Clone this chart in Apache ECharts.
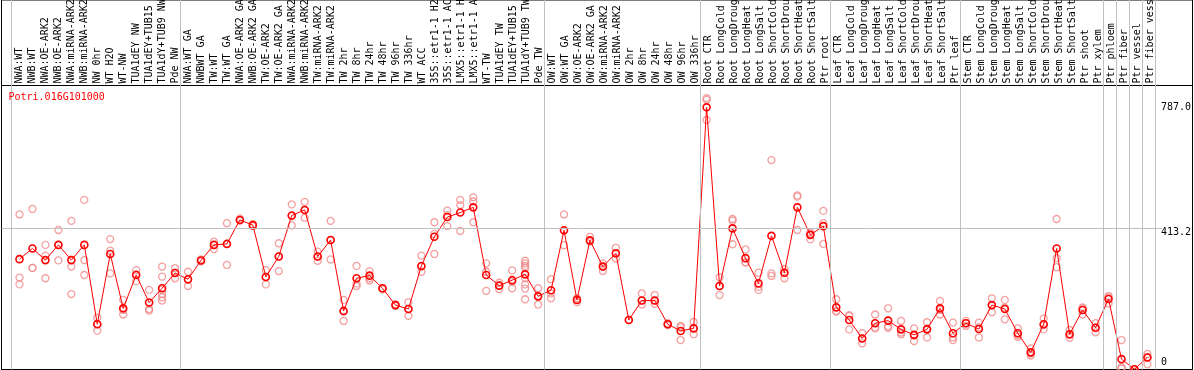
<!DOCTYPE html>
<html>
<head>
<meta charset="utf-8">
<title>Potri.016G101000</title>
<script src="https://cdn.jsdelivr.net/npm/echarts@6.0.0/dist/echarts.min.js"></script>
<style>
	html, body { margin: 0; padding: 0; background: #fff; }
	#chart { width: 1194px; height: 370px; }
</style>
</head>
<body>
<div id="chart"></div>
<script>
	const geneName = "Potri.016G101000";

	const categories = [
		// NW
		"NWA:WT", "NWB:WT", "NWA:OE-ARK2", "NWB:OE-ARK2", "NWA:miRNA-ARK2", "NWB:miRNA-ARK2",
		"NW 0hr", "WT H2O", "WT-NW", "TUA1dEY NW", "TUA1dEY+TUB15", "TUA1dY+TUB9 NW", "Pde NW",
		// TW
		"NWA:WT GA", "NWBWT GA", "TW:WT", "TW:WT GA", "NWA:OE-ARK2 GA", "NWB:OE-ARK2 GA",
		"TW:OE-ARK2", "TW:OE-ARK2 GA", "NWA:miRNA-ARK2", "NWB:miRNA-ARK2", "TW:miRNA-ARK2", "TW:miRNA-ARK2",
		"TW 2hr", "TW 8hr", "TW 24hr", "TW 48hr", "TW 96hr", "TW 336hr", "WT ACC",
		"35S::etr1-1 H2O", "35S::etr1-1 ACC", "LMX5::etr1-1 H2O", "LMX5::etr1-1 ACC",
		"WT-TW", "TUA1dEY TW", "TUA1dEY+TUB15", "TUA1dY+TUB9 TW", "Pde TW",
		// OW
		"OW:WT", "OW:WT GA", "OW:OE-ARK2", "OW:OE-ARK2 GA", "OW:miRNA-ARK2", "OW:miRNA-ARK2",
		"OW 2hr", "OW 8hr", "OW 24hr", "OW 48hr", "OW 96hr", "OW 336hr",
		// root
		"Root CTR", "Root LongCold", "Root LongDrought", "Root LongHeat", "Root LongSalt",
		"Root ShortCold", "Root ShortDrought", "Root ShortHeat", "Root ShortSalt", "Ptr root",
		// leaf
		"Leaf CTR", "Leaf LongCold", "Leaf LongDrought", "Leaf LongHeat", "Leaf LongSalt",
		"Leaf ShortCold", "Leaf ShortDrought", "Leaf ShortHeat", "Leaf ShortSalt", "Ptr leaf",
		// stem
		"Stem CTR", "Stem LongCold", "Stem LongDrought", "Stem LongHeat", "Stem LongSalt",
		"Stem ShortCold", "Stem ShortDrought", "Stem ShortHeat", "Stem ShortSalt", "Ptr shoot", "Ptr xylem",
		"Ptr phloem", "Ptr fiber", "Ptr vessel", "Ptr fiber vessel"
	];

	// mean expression per sample
	const means = [
		318, 351, 315, 362, 315, 362, 117, 334, 166, 269, 184, 228, 275,
		256, 314, 362, 365, 439, 423, 263, 326, 453, 470, 326, 377, 158, 259, 267, 228,
		176, 164, 297, 387, 448, 462, 478, 269, 236, 253, 271, 203,
		222, 407, 192, 376, 295, 336, 130, 190, 190, 117, 96, 104,
		787, 235, 413, 321, 243, 390, 276, 478, 393, 420,
		169, 130, 73, 120, 128, 101, 84, 101, 166, 89,
		120, 102, 176, 164, 89, 30, 117, 351, 86, 161, 106,
		195, 9, -22, 14
	];

	// individual replicates per sample
	const replicates = [
		[456, 261, 240], [473, 291, 291], [362, 329, 259], [408, 362, 314], [436, 295, 210],
		[501, 315, 269], [137, 117, 97], [380, 344, 274], [192, 161, 147], [284, 271, 250],
		[223, 164, 159], [295, 264, 223, 210, 200, 190], [290, 276, 259],
		[279, 254, 235], [317, 311], [372, 362, 349], [429, 365, 300], [443, 437], [426, 420],
		[284, 263, 240], [367, 326, 281], [487, 451, 422], [495, 470, 446], [341, 326, 313],
		[436, 377, 317], [192, 156, 127], [297, 243, 235], [281, 259, 252], [228, 225],
		[178, 174], [185, 164, 143], [329, 295, 279], [432, 396, 334], [468, 454, 420],
		[501, 485, 405], [509, 496, 432], [305, 279, 220], [245, 236, 225], [283, 248, 228],
		[313, 305, 297, 290, 259, 240, 227, 194], [228, 203, 178],
		[256, 212, 197], [456, 407, 361], [197, 185], [387, 372], [305, 295, 281], [353, 336, 320],
		[130], [212, 190, 178], [207, 190, 180], [120, 114], [112, 107, 68], [124, 104, 86],
		[815, 810, 748], [262, 235, 207], [442, 437, 364], [348, 308, 308], [276, 233, 223],
		[624, 274, 266], [287, 276, 259], [515, 511, 408], [400, 393, 379], [467, 429, 365],
		[194, 158, 156], [145, 142, 101], [89, 73, 58], [147, 107, 104], [166, 111, 106],
		[127, 91, 86], [104, 82, 65], [123, 104, 76], [189, 161, 147], [122, 76, 68],
		[127, 120, 112], [122, 107, 76], [197, 176, 154], [192, 168, 132], [104, 84, 78],
		[42, 27, 20], [135, 114, 101], [442, 321, 293], [99, 84, 75], [169, 166, 147], [120, 106, 92],
		[204, 200, 181], [68, -16, -20], [-22, -30], [25, 16, -7]
	];

	// sample index where each group starts (group separators)
	const groupBreaks = [0, 13, 41, 53, 63, 73, 84, 85, 86, 87, 88];

	const yTickValues = [0, 413.2, 787.0];
	const yTickLabels = ["0", "413.2", "787.0"];
	const refLine = 413.2;

	const FONT = '"DejaVu Sans Mono", monospace';
	const Y_MIN = -23;
	const Y_MAX = 856;
	// separator axis: spans the whole frame, one unit per sample
	const SEP_MIN = -10 / 13;
	const SEP_MAX = SEP_MIN + 1191 / 13;

	const scatterData = [];
	replicates.forEach((reps, i) => reps.forEach(v => scatterData.push([i, v])));

	const grayLine = { color: "#c0c0c0", width: 1, type: "solid" };
	const hidden = { show: false };

	const chart = echarts.init(document.getElementById("chart"));

	chart.setOption({
		animation: false,
		backgroundColor: "#fff",
		title: {
			text: geneName,
			left: 8.5,
			top: 92,
			padding: 0,
			textStyle: { color: "#ff0000", fontFamily: FONT, fontSize: 10, fontWeight: "normal" }
		},
		grid: [
			// 0: outer frame + separators
			{ left: 1.5, right: 1.5, top: -5, bottom: 0.5, show: true, borderColor: "#000", borderWidth: 1, backgroundColor: "transparent" },
			// 1: reference line
			{ left: 1.5, right: 32, top: 85, bottom: 0.5 },
			// 2: plot frame
			{ left: 1.5, right: 1.5, top: 85.5, bottom: 0.5, show: true, borderColor: "#000", borderWidth: 1, backgroundColor: "transparent" },
			// 3: data
			{ left: 13, right: 37, top: 85, bottom: 0.5 },
			// 4: sample labels
			{ left: 13, right: 37, top: 0, height: 85.5 }
		],
		xAxis: [
			{ gridIndex: 0, type: "value", min: SEP_MIN, max: SEP_MAX, show: false },
			{ gridIndex: 1, type: "value", min: 0, max: 1, show: false },
			{ gridIndex: 2, type: "value", min: 0, max: 1, show: false },
			{ gridIndex: 3, type: "category", data: categories, show: false, boundaryGap: true },
			{
				gridIndex: 4,
				type: "category",
				data: categories,
				position: "bottom",
				boundaryGap: true,
				axisLine: hidden,
				axisTick: hidden,
				splitLine: hidden,
				axisLabel: {
					inside: true,
					rotate: 90,
					margin: 2,
					interval: 0,
					hideOverlap: false,
					// nudges the rotated text a little to the right
					padding: [5, 0, 0, 0],
					color: "#000",
					fontFamily: FONT,
					fontSize: 10
				}
			}
		],
		yAxis: [
			{ gridIndex: 0, type: "value", min: 0, max: 1, show: false },
			{ gridIndex: 1, type: "value", min: Y_MIN, max: Y_MAX, show: false },
			{ gridIndex: 2, type: "value", min: 0, max: 1, show: false },
			{
				gridIndex: 3,
				type: "value",
				position: "right",
				min: Y_MIN,
				max: Y_MAX,
				axisLine: hidden,
				axisTick: hidden,
				splitLine: hidden,
				axisLabel: {
					customValues: yTickValues,
					margin: 7,
					color: "#000",
					fontFamily: FONT,
					fontSize: 10,
					formatter: value => {
						const idx = yTickValues.indexOf(value);
						const text = idx >= 0 ? yTickLabels[idx] : String(value);
						return value === refLine ? `{low|${text}}` : text;
					},
					rich: {
						low: { padding: [9, 0, 0, 0], color: "#000", fontFamily: FONT, fontSize: 10 }
					}
				}
			},
			{ gridIndex: 4, type: "value", show: false }
		],
		series: [
			{
				name: "separators",
				type: "line",
				xAxisIndex: 0,
				yAxisIndex: 0,
				data: [],
				z: 1,
				markLine: {
					silent: true,
					symbol: "none",
					label: hidden,
					lineStyle: grayLine,
					data: groupBreaks.map(k => ({ xAxis: k }))
				}
			},
			{
				name: "reference",
				type: "line",
				xAxisIndex: 1,
				yAxisIndex: 1,
				data: [],
				z: 1,
				markLine: {
					silent: true,
					symbol: "none",
					label: hidden,
					lineStyle: grayLine,
					data: [{ yAxis: refLine }]
				}
			},
			{
				name: "replicates",
				type: "scatter",
				xAxisIndex: 3,
				yAxisIndex: 3,
				data: scatterData,
				clip: false,
				z: 3,
				symbol: "circle",
				symbolSize: 7,
				itemStyle: { color: "rgba(0,0,0,0)", borderColor: "#f08a8a", borderWidth: 1.3 }
			},
			{
				name: geneName,
				type: "line",
				xAxisIndex: 3,
				yAxisIndex: 3,
				data: means,
				clip: false,
				z: 4,
				showAllSymbol: true,
				symbol: "circle",
				symbolSize: 7,
				itemStyle: { color: "rgba(0,0,0,0)", borderColor: "#ff0000", borderWidth: 1.6 },
				lineStyle: { color: "#ff0000", width: 1 }
			}
		]
	});
</script>
</body>
</html>
